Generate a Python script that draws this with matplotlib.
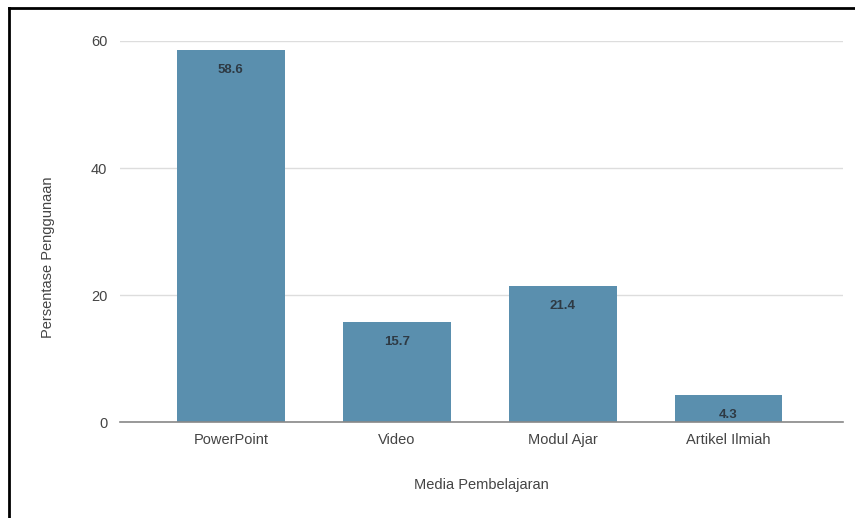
import matplotlib
matplotlib.use("Agg")
import matplotlib.pyplot as plt
from matplotlib.lines import Line2D

categories = ["PowerPoint", "Video", "Modul Ajar", "Artikel Ilmiah"]
values = [58.6, 15.7, 21.4, 4.3]
yticks = [0, 20, 40, 60]

plt.rcParams['font.family'] = ['Liberation Sans', 'DejaVu Sans']

fig = plt.figure(figsize=(8.55, 5.18), dpi=100)
ax = fig.add_axes([0.140, 0.185, 0.846, 0.736])

x = list(range(len(categories)))
bars = ax.bar(x, values, width=0.65, color="#5A8FAE", zorder=3)
for xi, v in zip(x, values):
    ax.annotate(f"{v}", xy=(xi, v), xytext=(0, -10), textcoords="offset points",
                ha="center", va="top", fontsize=9.5, color="#2e3a44",
                fontweight="bold", zorder=4)

ax.set_xlim(-0.67, 3.69)
ax.set_ylim(0, 60)
ax.set_yticks(yticks)
ax.set_xticks(x)
ax.set_xticklabels(categories)
ax.tick_params(axis="both", length=0, colors="#444444", labelsize=10.5)
ax.tick_params(axis="x", pad=8)
ax.tick_params(axis="y", pad=9)
ax.grid(axis="y", color="#dddddd", linewidth=1, zorder=0)
ax.set_axisbelow(True)
for s in ["top", "right", "left"]:
    ax.spines[s].set_visible(False)
ax.spines["bottom"].set_color("#888888")
ax.spines["bottom"].set_linewidth(1.2)
ax.spines["bottom"].set_zorder(5)

ax.set_xlabel("Media Pembelajaran", fontsize=10.5, color="#444444", labelpad=22)
ax.set_ylabel("Persentase Penggunaan", fontsize=10.5, color="#444444")
ax.yaxis.set_label_coords(-0.090, 0.433)

# frame border (left and top visible, rest cropped)
fig.add_artist(Line2D([9/855, 9/855], [0, 1 - 8/518], transform=fig.transFigure,
                      color="black", linewidth=2))
fig.add_artist(Line2D([9/855, 1], [1 - 8/518, 1 - 8/518], transform=fig.transFigure,
                      color="black", linewidth=2))

fig.savefig("out.png", dpi=100)
